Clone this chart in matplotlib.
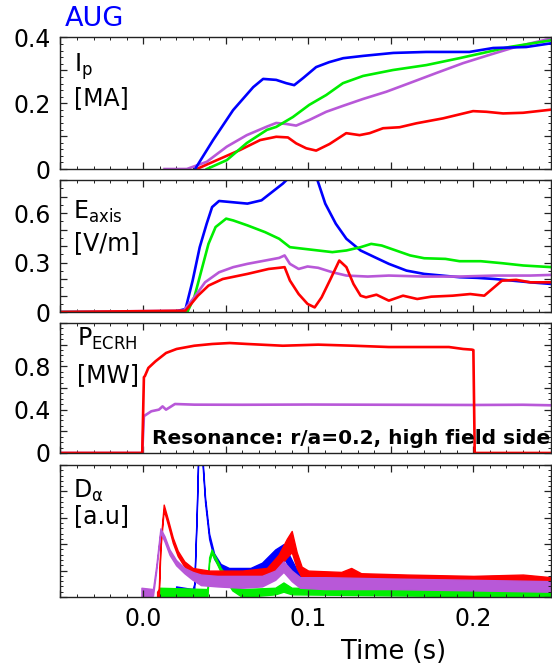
import numpy as np
import matplotlib.pyplot as plt
from matplotlib.ticker import MultipleLocator, FuncFormatter

# colours of the four discharges
c_blue = '#0000ff'
c_green = '#00ee00'
c_red = '#ff0000'
c_purp = '#b858d8'

# ---- plasma current Ip [MA]
ip_blue_t = [0.0315, 0.0424, 0.0545, 0.0667, 0.0727, 0.0806, 0.0867, 0.0915, 0.097, 0.1048,
             0.1127, 0.1212, 0.1333, 0.1515, 0.1715, 0.1976, 0.212, 0.232, 0.248]
ip_blue = [0.0, 0.088, 0.179, 0.249, 0.274, 0.271, 0.261, 0.255, 0.277, 0.31,
           0.325, 0.337, 0.344, 0.353, 0.356, 0.356, 0.368, 0.371, 0.383]
ip_green_t = [0.0386, 0.0507, 0.0628, 0.075, 0.0806, 0.0907, 0.1006, 0.1109, 0.121, 0.1332,
              0.1513, 0.1715, 0.1915, 0.2059, 0.2218, 0.248]
ip_green = [0.0, 0.027, 0.079, 0.119, 0.128, 0.158, 0.195, 0.225, 0.261, 0.283,
            0.301, 0.316, 0.337, 0.353, 0.371, 0.392]
ip_purp_t = [0.013, 0.0265, 0.0386, 0.0507, 0.0628, 0.075, 0.0806, 0.0867, 0.0927, 0.1006,
             0.1109, 0.121, 0.1332, 0.1473, 0.1612, 0.1776, 0.1938, 0.2097, 0.2261, 0.248]
ip_purp = [0.0, 0.0, 0.022, 0.068, 0.103, 0.129, 0.140, 0.137, 0.132, 0.149,
           0.174, 0.192, 0.213, 0.235, 0.261, 0.292, 0.322, 0.347, 0.372, 0.398]
ip_red_t = [0.0325, 0.0447, 0.0588, 0.0709, 0.0806, 0.0877, 0.0927, 0.0988, 0.1048, 0.1129,
            0.123, 0.1311, 0.1372, 0.1453, 0.1553, 0.1655, 0.1816, 0.1998, 0.2079, 0.218,
            0.2301, 0.248]
ip_red = [0.0, 0.027, 0.058, 0.088, 0.098, 0.096, 0.078, 0.063, 0.056, 0.076,
          0.109, 0.103, 0.109, 0.124, 0.127, 0.139, 0.154, 0.176, 0.174, 0.169,
          0.171, 0.181]

# ---- loop voltage on axis E [V/m]
e_blue_t = [-0.05, 0.018, 0.0257, 0.030, 0.0343, 0.0385, 0.0418, 0.046, 0.0525, 0.0632,
            0.0717, 0.0782, 0.0846, 0.0878, 0.095, 0.100, 0.1049, 0.1103, 0.1167, 0.1231,
            0.1317, 0.1403, 0.1488, 0.1595, 0.1702, 0.1809, 0.1916, 0.2024, 0.2131, 0.2238,
            0.2345, 0.2473]
e_blue = [0.0, 0.0, 0.018, 0.19, 0.393, 0.535, 0.636, 0.673, 0.667, 0.657,
          0.677, 0.728, 0.778, 0.809, 0.95, 0.95, 0.82, 0.657, 0.535, 0.444,
          0.373, 0.332, 0.292, 0.251, 0.231, 0.221, 0.211, 0.207, 0.2, 0.19,
          0.18, 0.17]
e_green_t = [-0.05, 0.0268, 0.031, 0.0353, 0.0396, 0.0439, 0.0503, 0.0546, 0.0632, 0.0739,
             0.0824, 0.0889, 0.0974, 0.106, 0.1146, 0.1231, 0.1317, 0.1381, 0.1445, 0.1531,
             0.1617, 0.1702, 0.1831, 0.1916, 0.2045, 0.2173, 0.2302, 0.2473]
e_green = [0.0, 0.0, 0.089, 0.251, 0.413, 0.515, 0.566, 0.555, 0.525, 0.484,
           0.444, 0.393, 0.383, 0.373, 0.363, 0.373, 0.393, 0.413, 0.403, 0.373,
           0.343, 0.326, 0.322, 0.308, 0.308, 0.296, 0.282, 0.272]
e_purp_t = [-0.05, 0.0246, 0.031, 0.0375, 0.046, 0.0546, 0.0632, 0.0739, 0.0824, 0.0857,
            0.0889, 0.0942, 0.0996, 0.106, 0.1146, 0.1231, 0.136, 0.1488, 0.1702, 0.1916,
            0.2131, 0.2345, 0.2473]
e_purp = [0.0, 0.008, 0.089, 0.18, 0.241, 0.272, 0.292, 0.312, 0.328, 0.343,
          0.292, 0.261, 0.276, 0.268, 0.241, 0.221, 0.215, 0.221, 0.215, 0.215,
          0.221, 0.221, 0.225]
e_red_t = [-0.05, 0.0257, 0.0332, 0.0396, 0.0482, 0.0632, 0.076, 0.0824, 0.0857, 0.0889,
           0.0942, 0.0996, 0.1039, 0.1081, 0.1135, 0.1188, 0.1231, 0.1274, 0.1317, 0.135,
           0.1413, 0.1488, 0.1574, 0.166, 0.1745, 0.1874, 0.1981, 0.2066, 0.2173, 0.2259,
           0.2345, 0.2473]
e_red = [0.0, 0.008, 0.099, 0.16, 0.2, 0.231, 0.261, 0.268, 0.272, 0.191,
         0.109, 0.049, 0.028, 0.089, 0.2, 0.312, 0.272, 0.17, 0.099, 0.089,
         0.105, 0.069, 0.099, 0.079, 0.093, 0.099, 0.109, 0.099, 0.19, 0.195,
         0.18, 0.18]

# ---- ECRH power [MW]
p_red_t = [-0.05, -0.0005, 0.0005, 0.0011, 0.0032, 0.0075, 0.0139, 0.0203, 0.031, 0.0418,
           0.0525, 0.0632, 0.0846, 0.106, 0.1274, 0.1488, 0.1702, 0.1852, 0.1938, 0.1991,
           0.2, 0.2008, 0.2473]
p_red = [0.0, 0.0, 0.70, 0.71, 0.785, 0.846, 0.923, 0.96, 0.99, 1.006,
         1.015, 1.006, 0.99, 1.0, 0.99, 0.978, 0.978, 0.978, 0.96, 0.954,
         0.95, 0.0, 0.0]
p_purp_t = [-0.05, -0.0005, 0.0005, 0.005, 0.0096, 0.0118, 0.0139, 0.016, 0.0193, 0.031,
            0.06, 0.1, 0.15, 0.2, 0.23, 0.2473]
p_purp = [0.0, 0.0, 0.34, 0.385, 0.40, 0.43, 0.40, 0.42, 0.452, 0.446,
          0.445, 0.447, 0.445, 0.443, 0.445, 0.44]

# ---- D-alpha [a.u], noisy traces given as lower / upper envelope
da_purp_t = [-0.001, 0.006, 0.008, 0.0105, 0.013, 0.016, 0.020, 0.025, 0.030, 0.035,
             0.045, 0.060, 0.072, 0.080, 0.085, 0.090, 0.095, 0.110, 0.150, 0.200, 0.247]
da_purp_lo = [0.0, 0.05, 1.0, 2.45, 2.1, 1.6, 1.2, 0.9, 0.65, 0.45,
              0.4, 0.35, 0.4, 0.65, 0.95, 0.6, 0.35, 0.3, 0.3, 0.25, 0.2]
da_purp_hi = [0.35, 0.3, 1.2, 2.6, 2.3, 1.8, 1.4, 1.1, 0.95, 0.85,
              0.8, 0.8, 0.8, 1.0, 1.35, 1.0, 0.75, 0.75, 0.7, 0.65, 0.6]
da_red_t = [0.0085, 0.0095, 0.0105, 0.0125, 0.015, 0.018, 0.021, 0.025, 0.030, 0.040,
            0.060, 0.075, 0.082, 0.087, 0.090, 0.093, 0.096, 0.100, 0.120, 0.126,
            0.132, 0.160, 0.200, 0.230, 0.247]
da_red_lo = [0.0, 0.0, 1.8, 3.3, 2.75, 2.05, 1.55, 1.15, 0.85, 0.6,
             0.6, 0.7, 1.1, 1.5, 1.7, 1.1, 0.75, 0.5, 0.5, 0.6,
             0.5, 0.4, 0.35, 0.4, 0.35]
da_red_hi = [0.2, 0.3, 2.0, 3.5, 2.95, 2.25, 1.75, 1.35, 1.1, 1.0,
             1.0, 1.1, 1.6, 2.2, 2.5, 1.7, 1.15, 1.0, 0.95, 1.1,
             0.9, 0.85, 0.8, 0.85, 0.75]
da_blue_t = [0.020, 0.030, 0.031, 0.0325, 0.0335, 0.0355, 0.0375, 0.040, 0.043, 0.047,
             0.052, 0.065, 0.072, 0.080, 0.085, 0.090, 0.095, 0.110, 0.160, 0.220, 0.247]
da_blue_lo = [0.0, 0.0, 0.3, 3.1, 5.5, 5.5, 3.6, 2.2, 1.45, 1.05,
              0.75, 0.65, 0.85, 1.3, 1.5, 0.95, 0.4, 0.35, 0.3, 0.3, 0.3]
da_blue_hi = [0.4, 0.3, 0.5, 3.3, 5.7, 5.7, 3.8, 2.4, 1.65, 1.25,
              1.1, 1.1, 1.3, 1.8, 2.0, 1.4, 0.8, 0.75, 0.75, 0.8, 0.7]
da_green_t = [0.010, 0.039, 0.040, 0.0415, 0.044, 0.047, 0.050, 0.054, 0.060, 0.080,
              0.085, 0.090, 0.247]
da_green_lo = [0.0, 0.0, 1.3, 1.65, 1.35, 0.95, 0.65, 0.25, 0.0, 0.1, 0.2, 0.1, 0.0]
da_green_hi = [0.35, 0.3, 1.5, 1.8, 1.5, 1.1, 0.85, 0.5, 0.3, 0.35, 0.55, 0.35, 0.3]

xlim = (-0.05, 0.247)
lw = 1.9

fig = plt.figure(figsize=(5.52, 6.68), dpi=100)
left, width = 0.1096, 0.8886
ax1 = fig.add_axes([left, 0.7470, width, 0.1969])
ax2 = fig.add_axes([left, 0.5329, width, 0.1976])
ax3 = fig.add_axes([left, 0.3219, width, 0.1946])
ax4 = fig.add_axes([left, 0.1063, width, 0.1976])
axes = [ax1, ax2, ax3, ax4]


def xfmt(v, pos):
    k = round(v / 0.1)
    if abs(k * 0.1 - v) < 1e-9:
        return '%.1f' % (k * 0.1)
    return ''


for ax in axes:
    ax.set_xlim(*xlim)
    ax.xaxis.set_major_locator(MultipleLocator(0.05))
    ax.xaxis.set_minor_locator(MultipleLocator(0.01))
    ax.tick_params(which='both', direction='in', top=True, right=True,
                   labelsize=17, pad=7, color='#222222')
    ax.tick_params(which='major', length=5, width=0.9)
    ax.tick_params(which='minor', length=2.5, width=0.7)
    for s in ax.spines.values():
        s.set_color('#222222')
        s.set_linewidth(1.0)
    if ax is ax4:
        ax.xaxis.set_major_formatter(FuncFormatter(xfmt))
    else:
        ax.tick_params(labelbottom=False)

# Ip
ax1.plot(ip_purp_t, ip_purp, color=c_purp, lw=lw)
ax1.plot(ip_red_t, ip_red, color=c_red, lw=lw)
ax1.plot(ip_green_t, ip_green, color=c_green, lw=lw)
ax1.plot(ip_blue_t, ip_blue, color=c_blue, lw=lw)
ax1.set_ylim(0, 0.4)
ax1.set_yticks([0, 0.1, 0.2, 0.3, 0.4], ['0', '', '0.2', '', '0.4'])
ax1.yaxis.set_minor_locator(MultipleLocator(0.02))

# E axis
ax2.plot(e_blue_t, e_blue, color=c_blue, lw=lw)
ax2.plot(e_green_t, e_green, color=c_green, lw=lw)
ax2.plot(e_purp_t, e_purp, color=c_purp, lw=lw)
ax2.plot(e_red_t, e_red, color=c_red, lw=lw)
ax2.set_ylim(0, 0.8)
ax2.set_yticks([0, 0.1, 0.2, 0.3, 0.4, 0.5, 0.6, 0.7, 0.8],
               ['0', '', '', '0.3', '', '', '0.6', '', ''])
ax2.yaxis.set_minor_locator(MultipleLocator(0.05))

# P ECRH
ax3.plot(p_purp_t, p_purp, color=c_purp, lw=lw)
ax3.plot(p_red_t, p_red, color=c_red, lw=lw)
ax3.set_ylim(0, 1.2)
ax3.set_yticks([0, 0.2, 0.4, 0.6, 0.8, 1.0, 1.2], ['0', '', '0.4', '', '0.8', '', ''])
ax3.yaxis.set_minor_locator(MultipleLocator(0.05))
ax3.text(0.0055, 0.08, 'Resonance: r/a=0.2, high field side', fontsize=14.5,
         fontweight='bold', va='baseline', ha='left', clip_on=False)

# D alpha
for t, lo, hi, c in [(da_blue_t, da_blue_lo, da_blue_hi, c_blue),
                     (da_green_t, da_green_lo, da_green_hi, c_green),
                     (da_red_t, da_red_lo, da_red_hi, c_red),
                     (da_purp_t, da_purp_lo, da_purp_hi, c_purp)]:
    ax4.fill_between(t, lo, hi, color=c, lw=1.0, edgecolor=c)
ax4.set_ylim(0, 5)
ax4.yaxis.set_major_locator(MultipleLocator(1))
ax4.yaxis.set_minor_locator(MultipleLocator(0.2))
ax4.tick_params(labelleft=False)

# panel labels
fs = 17
ax1.text(0.028, 0.738, r'I$_\mathregular{p}$', transform=ax1.transAxes, fontsize=fs, va='baseline')
ax1.text(0.028, 0.487, '[MA]', transform=ax1.transAxes, fontsize=fs, va='baseline')
ax2.text(0.025, 0.705, r'E$_\mathregular{axis}$', transform=ax2.transAxes, fontsize=fs, va='baseline')
ax2.text(0.028, 0.47, '[V/m]', transform=ax2.transAxes, fontsize=fs, va='baseline')
ax3.text(0.033, 0.823, r'P$_\mathregular{ECRH}$', transform=ax3.transAxes, fontsize=fs, va='baseline')
ax3.text(0.033, 0.546, '[MW]', transform=ax3.transAxes, fontsize=fs, va='baseline')
ax4.text(0.026, 0.75, r'D$_\mathregular{α}$', transform=ax4.transAxes, fontsize=fs, va='baseline')
ax4.text(0.028, 0.56, '[a.u]', transform=ax4.transAxes, fontsize=fs, va='baseline')

fig.text(65 / 552, 1 - 19 / 668, 'AUG', color=c_blue, fontsize=19.5, ha='left', va='center')
fig.text(394 / 552, 1 - 652 / 668, 'Time (s)', fontsize=18.5, ha='center', va='center')

fig.savefig('out.png', dpi=100)
